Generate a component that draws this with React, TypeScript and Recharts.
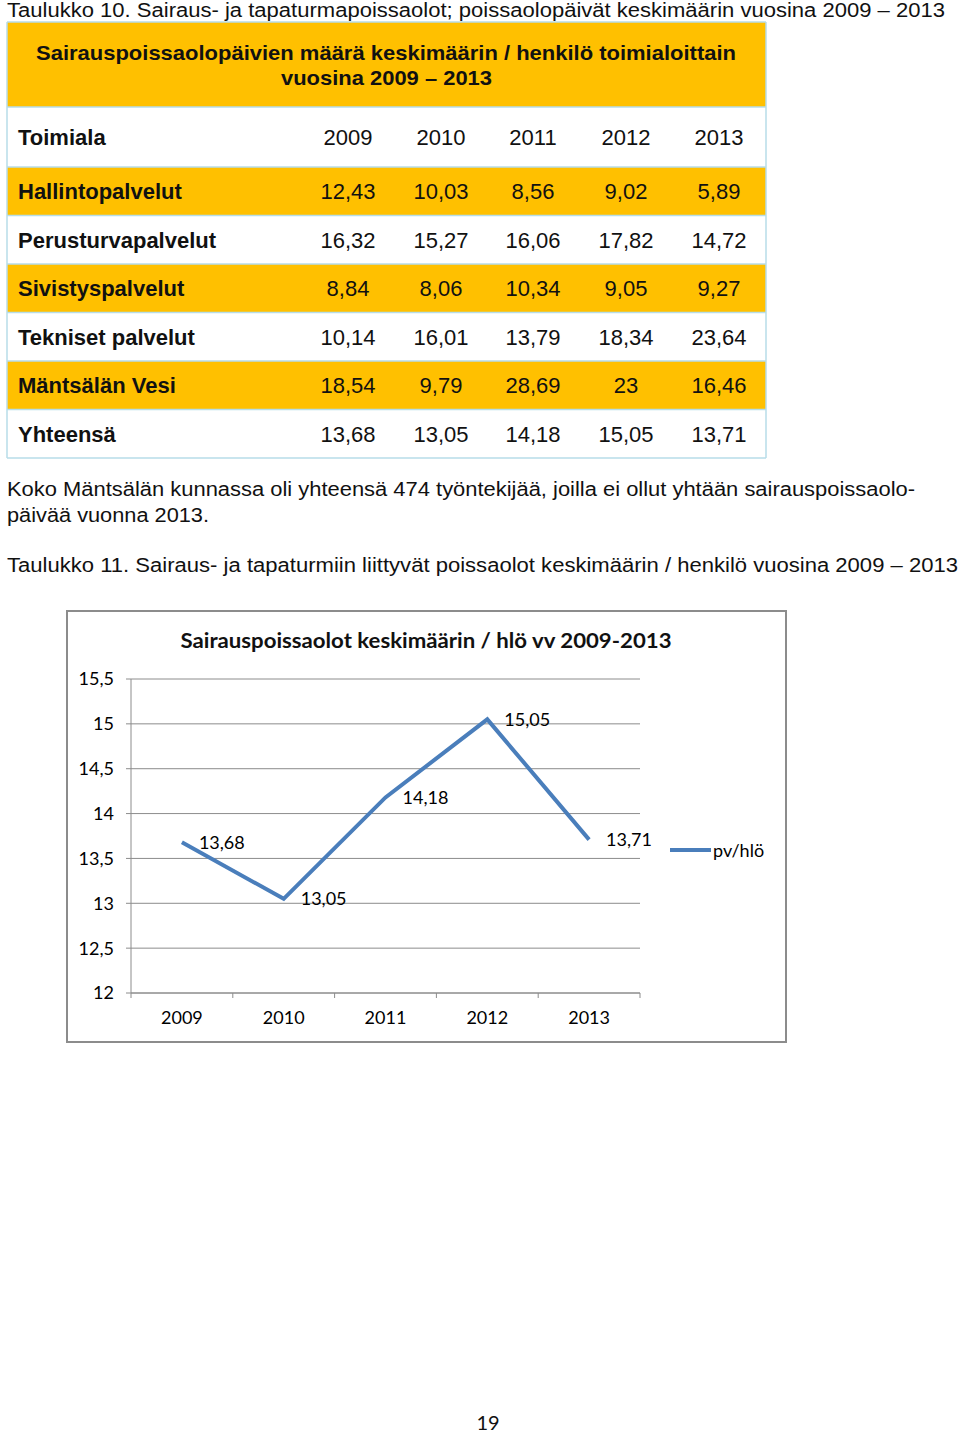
import { LineChart, Line, XAxis, YAxis, CartesianGrid, Legend, LabelList } from 'recharts'

// table 10 + chart data
const YEARS = ['2009', '2010', '2011', '2012', '2013']
const UNITS = ['Hallintopalvelut', 'Perusturvapalvelut', 'Sivistyspalvelut', 'Tekniset palvelut', 'Mäntsälän Vesi', 'Yhteensä']
const HALLINTO = [12.43, 10.03, 8.56, 9.02, 5.89]
const PERUSTURVA = [16.32, 15.27, 16.06, 17.82, 14.72]
const SIVISTYS = [8.84, 8.06, 10.34, 9.05, 9.27]
const TEKNISET = [10.14, 16.01, 13.79, 18.34, 23.64]
const VESI = [18.54, 9.79, 28.69, 23, 16.46]
const YHTEENSA = [13.68, 13.05, 14.18, 15.05, 13.71]
const Y_TICKS = [12, 12.5, 13, 13.5, 14, 14.5, 15, 15.5]

const ROWS = [HALLINTO, PERUSTURVA, SIVISTYS, TEKNISET, VESI, YHTEENSA]
const chartData = YEARS.map((year, i) => ({ year, value: YHTEENSA[i] }))

const DOC_FONT = '"Liberation Sans", Arial, sans-serif'
const CHART_FONT = 'Lato, "Open Sans", sans-serif'
const CHART_SIZE = 18
const GRID = '#8c8c8c'
const LINE = '#4a7ebb'
const YELLOW = '#ffc000'
const RULE = '#b7dde8'
const INK = '#111'

const COLS = [348, 441, 533, 626, 719]
const ROW_TOP = 167
const ROW_H = 48.5

const fi = (v: number) => String(v).replace('.', ',')

function YearTick(props: any) {
  const { x, y, payload, index, visibleTicksCount, width } = props
  const half = payload?.offset ?? width / visibleTicksCount / 2
  return (
    <g>
      <line x1={x - half} x2={x - half} y1={y} y2={y + 5} stroke={GRID} />
      {index === visibleTicksCount - 1 && <line x1={x + half} x2={x + half} y1={y} y2={y + 5} stroke={GRID} />}
      <text x={x} y={y + 25} dy="0.35em" textAnchor="middle" fontSize={CHART_SIZE} fontFamily={CHART_FONT} fill="#000">
        {payload.value}
      </text>
    </g>
  )
}

function LegendBox({ payload }: any) {
  const item = payload?.[0]
  if (!item) return null
  return (
    <div style={{ display: 'flex', alignItems: 'center', fontFamily: CHART_FONT, fontSize: CHART_SIZE, lineHeight: '20px', color: '#000' }}>
      <svg width={41} height={6}>
        <line x1={0} y1={3} x2={41} y2={3} stroke={LINE} strokeWidth={4} />
      </svg>
      <span style={{ marginLeft: 2 }}>{item.value}</span>
    </div>
  )
}

export default function App() {
  return (
    <div style={{ position: 'absolute', left: 0, top: 0, width: 960, height: 1435, background: '#fff' }}>
      <svg width={960} height={1435} style={{ position: 'absolute', left: 0, top: 0 }}>
        <text x={7} y={17} fontFamily={DOC_FONT} fontSize={20} fill={INK} textLength={938} lengthAdjust="spacingAndGlyphs">
          Taulukko 10. Sairaus- ja tapaturmapoissaolot; poissaolopäivät keskimäärin vuosina 2009 – 2013
        </text>

        {/* table 10 */}
        <rect x={7} y={22} width={759} height={85} fill={YELLOW} />
        {[0, 2, 4].map(r => (
          <rect key={r} x={7} y={ROW_TOP + r * ROW_H} width={759} height={ROW_H} fill={YELLOW} />
        ))}
        {[22, 107, 167, ...ROWS.map((_, r) => ROW_TOP + (r + 1) * ROW_H)].map(y => (
          <line key={y} x1={7} x2={766} y1={y} y2={y} stroke={RULE} strokeWidth={1.5} />
        ))}
        <line x1={7} x2={7} y1={22} y2={458} stroke={RULE} strokeWidth={1.5} />
        <line x1={766} x2={766} y1={22} y2={458} stroke={RULE} strokeWidth={1.5} />

        <text x={36} y={60} fontFamily={DOC_FONT} fontWeight="bold" fontSize={21} fill={INK} textLength={700} lengthAdjust="spacingAndGlyphs">
          Sairauspoissaolopäivien määrä keskimäärin / henkilö toimialoittain
        </text>
        <text x={281} y={85} fontFamily={DOC_FONT} fontWeight="bold" fontSize={21} fill={INK} textLength={211} lengthAdjust="spacingAndGlyphs">
          vuosina 2009 – 2013
        </text>

        <text x={18} y={145} fontFamily={DOC_FONT} fontWeight="bold" fontSize={22} fill={INK}>Toimiala</text>
        {YEARS.map((yr, c) => (
          <text key={yr} x={COLS[c]} y={145} textAnchor="middle" fontFamily={DOC_FONT} fontSize={22} fill={INK}>{yr}</text>
        ))}
        {ROWS.map((vals, r) => {
          const y = ROW_TOP + r * ROW_H + ROW_H / 2 + 8
          return (
            <g key={r}>
              <text x={18} y={y} fontFamily={DOC_FONT} fontWeight="bold" fontSize={22} fill={INK}>{UNITS[r]}</text>
              {vals.map((v, c) => (
                <text key={c} x={COLS[c]} y={y} textAnchor="middle" fontFamily={DOC_FONT} fontSize={22} fill={INK}>{fi(v)}</text>
              ))}
            </g>
          )
        })}

        <text x={7} y={496} fontFamily={DOC_FONT} fontSize={20} fill={INK} textLength={908} lengthAdjust="spacingAndGlyphs">
          Koko Mäntsälän kunnassa oli yhteensä 474 työntekijää, joilla ei ollut yhtään sairauspoissaolo-
        </text>
        <text x={7} y={522} fontFamily={DOC_FONT} fontSize={20} fill={INK} textLength={202} lengthAdjust="spacingAndGlyphs">
          päivää vuonna 2013.
        </text>
        <text x={7} y={572} fontFamily={DOC_FONT} fontSize={20} fill={INK} textLength={951} lengthAdjust="spacingAndGlyphs">
          Taulukko 11. Sairaus- ja tapaturmiin liittyvät poissaolot keskimäärin / henkilö vuosina 2009 – 2013
        </text>

        <text x={426} y={648} textAnchor="middle" fontFamily={CHART_FONT} fontWeight="bold" fontSize={21} fill={INK} textLength={491} lengthAdjust="spacingAndGlyphs">
          Sairauspoissaolot keskimäärin / hlö vv 2009-2013
        </text>

        <text x={488} y={1430} textAnchor="middle" fontFamily={CHART_FONT} fontSize={20} fill={INK}>19</text>
      </svg>

      <div style={{ position: 'absolute', left: 66, top: 610, width: 721, height: 433, boxSizing: 'border-box', border: `2px solid ${GRID}` }} />

      <div style={{ position: 'absolute', left: 66, top: 610 }}>
        <LineChart width={721} height={433} data={chartData} margin={{ top: 69, right: 147, bottom: 0, left: 0 }}>
          <CartesianGrid vertical={false} stroke={GRID} />
          <XAxis
            dataKey="year"
            type="category"
            scale="band"
            interval={0}
            height={50}
            stroke={GRID}
            tickLine={false}
            tickSize={0}
            tickMargin={0}
            tick={<YearTick />}
          />
          <YAxis
            type="number"
            domain={[12, 15.5]}
            ticks={Y_TICKS}
            interval={0}
            width={65}
            stroke={GRID}
            tickSize={5}
            tickMargin={12}
            tickFormatter={fi}
            tick={{ fill: '#000', fontSize: CHART_SIZE, fontFamily: CHART_FONT }}
          />
          <Legend
            layout="horizontal"
            align="center"
            verticalAlign="middle"
            content={<LegendBox />}
            wrapperStyle={{ left: 604, top: 230, width: 120, height: 20 }}
          />
          <Line
            dataKey="value"
            name="pv/hlö"
            stroke={LINE}
            strokeWidth={4}
            dot={false}
            isAnimationActive={false}
          >
            <LabelList dataKey="value" position="right" offset={17} formatter={(v: any) => fi(v)} fill="#000" fontSize={CHART_SIZE} fontFamily={CHART_FONT} />
          </Line>
        </LineChart>
      </div>
    </div>
  )
}
